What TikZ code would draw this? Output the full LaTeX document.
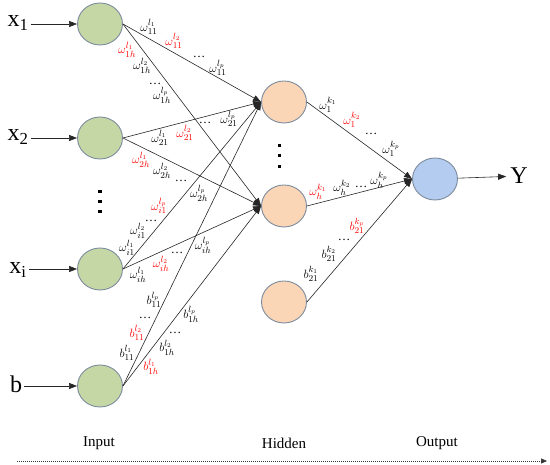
\documentclass[tikz,border=0pt]{standalone}
\usepackage{fontspec}
\setmainfont{Liberation Serif}
\usetikzlibrary{arrows.meta,shapes.geometric}
\definecolor{ingreen}{HTML}{C4D7A4}
\definecolor{hidpeach}{HTML}{FAD6B6}
\definecolor{outblue}{HTML}{B4CCF0}
\definecolor{rimgray}{HTML}{7D8B9E}

\begin{document}
\begin{tikzpicture}[x=1pt, y=-1pt,
  neuron/.style={draw=rimgray, line width=0.9pt, ellipse, minimum width=45pt, minimum height=42pt, inner sep=0pt},
  arr/.style={-{Triangle[length=8pt,width=6pt]}, line width=0.6pt, draw=black!85},
  big/.style={font=\fontsize{24}{26}\selectfont, inner sep=2pt},
  layer/.style={font=\fontsize{15}{17}\selectfont},
  wlab/.style={font=\fontsize{12.5}{14}\selectfont, inner sep=0pt}
]
\useasboundingbox (0,0) rectangle (550,465);

\node[neuron, fill=ingreen] (x1) at (100,24) {};
\node[neuron, fill=ingreen] (x2) at (100,138) {};
\node[neuron, fill=ingreen] (xi) at (100,269) {};
\node[neuron, fill=ingreen] (b) at (100,386) {};

\node[neuron, fill=hidpeach] (h1) at (284,102) {};
\node[neuron, fill=hidpeach] (h2) at (284,206) {};
\node[neuron, fill=hidpeach] (h3) at (284,302) {};

\node[neuron, fill=outblue] (out) at (435,179) {};

\node[big] (lx1) at (18,23) {x\textsubscript{1}};
\node[big] (lx2) at (18,137) {x\textsubscript{2}};
\node[big] (lxi) at (18,270) {x\textsubscript{i}};
\node[big] (lb) at (16,384) {b};
\node[big, inner sep=4pt] (ly) at (519,176) {Y};

\draw[arr] (lx1.east |- x1) -- (x1);
\draw[arr] (lx2.east |- x2) -- (x2);
\draw[arr] (lxi.east |- xi) -- (xi);
\draw[arr] (lb.east |- b) -- (b);
\draw[arr] (out) -- (ly);

\foreach \s in {x1,x2,xi,b}
  \foreach \t in {h1,h2}
    \draw[arr] (\s.east) -- (\t.west);
\foreach \s in {h1,h2,h3}
  \draw[arr] (\s.east) -- (out.west);

\foreach \py in {190,200,210}
  \fill (98,\py) rectangle (101.5,\py+3.5);
\foreach \py in {144,154,165}
  \fill (277.5,\py) rectangle (281,\py+3.5);

\foreach \px/\py/\txt/\col [count=\n] in {
  149/27/{$\omega^{l_1}_{11}$}/black,
  174/41/{$\omega^{l_2}_{11}$}/red,
  199/57/{\ldots}/black,
  218/68/{$\omega^{l_p}_{11}$}/black,
  127/50/{$\omega^{l_1}_{1h}$}/red,
  142/66/{$\omega^{l_2}_{1h}$}/black,
  155/84/{\ldots}/black,
  162/95/{$\omega^{l_p}_{1h}$}/black,
  229/119/{$\omega^{l_p}_{21}$}/black,
  205/123/{\ldots}/black,
  160/138/{$\omega^{l_1}_{21}$}/black,
  185/133/{$\omega^{l_2}_{21}$}/red,
  141/160/{$\omega^{l_1}_{2h}$}/red,
  162/171/{$\omega^{l_2}_{2h}$}/black,
  181/181/{\ldots}/black,
  199/193/{$\omega^{l_p}_{2h}$}/black,
  159/206/{$\omega^{l_p}_{i1}$}/red,
  151/221/{\ldots}/black,
  138/231/{$\omega^{l_2}_{i1}$}/black,
  127/248/{$\omega^{l_1}_{i1}$}/black,
  177/253/{\ldots}/black,
  203/245/{$\omega^{l_p}_{ih}$}/black,
  161/264/{$\omega^{l_2}_{ih}$}/red,
  138/275/{$\omega^{l_1}_{ih}$}/black,
  154/300/{$b^{l_p}_{11}$}/black,
  145/318/{\ldots}/black,
  137/333/{$b^{l_2}_{11}$}/red,
  127/353/{$b^{l_1}_{11}$}/black,
  191/314/{$b^{l_p}_{1h}$}/black,
  175/333/{\ldots}/black,
  167/348/{$b^{l_2}_{1h}$}/black,
  151/367/{$b^{l_1}_{1h}$}/red,
  328/105/{$\omega^{k_1}_{1}$}/black,
  352/120/{$\omega^{k_2}_{1}$}/red,
  371/134/{\ldots}/black,
  391/149/{$\omega^{k_p}_{1}$}/black,
  318/192/{$\omega^{k_1}_{h}$}/red,
  342/188/{$\omega^{k_2}_{h}$}/black,
  361/187/{\ldots}/black,
  379/180/{$\omega^{k_p}_{h}$}/black,
  357/226/{$b^{k_p}_{21}$}/red,
  344/240/{\ldots}/black,
  329/254/{$b^{k_2}_{21}$}/black,
  311/274/{$b^{k_1}_{21}$}/black}
  \node[wlab, text=\col] (lab\n) at (\px,\py) {\txt};

\node[layer] (tin) at (99,443) {Input};
\node[layer] (thid) at (284,443) {Hidden};
\node[layer] (tout) at (437,443) {Output};

\coordinate (axs) at (17,461);
\coordinate (axe) at (547,461);
\draw[-{Triangle[length=6pt,width=5pt]}, line width=0.6pt, draw=black!80, dash pattern=on 1pt off 1pt] (axs) -- (axe);

\end{tikzpicture}
\end{document}
